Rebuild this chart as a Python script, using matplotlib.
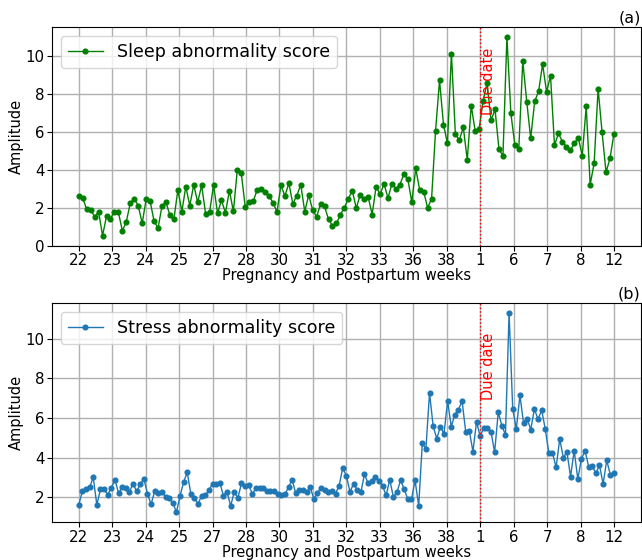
import numpy as np
import matplotlib
matplotlib.use("Agg")
import matplotlib.pyplot as plt

week_labels = ["22", "23", "24", "25", "27", "28", "30", "31", "32", "33",
               "36", "38", "1", "6", "7", "8", "12"]
due_label_index = 12  # tick "1"

sleep_scores = [
    2.61, 2.51, 1.93, 1.91, 1.53, 1.81, 0.54, 1.56, 1.44, 1.81,
    1.77, 0.79, 1.28, 2.26, 2.49, 2.12, 1.19, 2.46, 2.35, 1.30,
    0.93, 2.11, 2.30, 1.60, 1.39, 2.96, 1.81, 3.12, 2.12, 3.21,
    2.30, 3.19, 1.68, 1.77, 3.21, 1.72, 2.40, 1.74, 2.91, 1.82,
    4.02, 3.82, 2.04, 2.33, 2.35, 2.95, 3.00, 2.82, 2.61,
    2.28, 1.79, 3.19, 2.63, 3.30, 2.21, 2.65, 3.23, 1.81, 2.67,
    1.89, 1.53, 2.21, 2.09, 1.39, 1.07, 1.18, 1.65, 2.02, 2.49,
    2.91, 1.98, 2.70, 2.47, 2.58, 1.65, 3.12, 2.72, 3.26, 2.53,
    3.25, 3.02, 3.23, 3.77, 3.53, 2.30, 4.09, 2.93, 2.86, 2.00,
    2.49, 6.07, 8.72, 6.39, 5.40, 10.14, 5.89, 5.58, 6.25, 4.53,
    7.39, 6.04,
    6.18, 7.65, 8.58, 6.61, 7.19, 5.09, 4.74, 11.02, 6.98, 5.33,
    5.12, 9.75, 7.60, 5.67, 7.61, 8.16, 9.58, 8.12, 8.96, 5.30,
    5.93, 5.49, 5.23, 5.05, 5.40, 5.70, 4.75, 7.35, 3.23, 4.35,
    8.28, 6.00, 3.88, 4.61, 5.91,
]

stress_scores = [
    1.63, 2.32, 2.44, 2.51, 3.01, 1.63, 2.41, 2.43, 2.14, 2.48,
    2.90, 2.22, 2.51, 2.48, 2.27, 2.70, 2.31, 2.66, 2.94, 2.19,
    1.66, 2.32, 2.22, 2.26, 2.03, 1.95, 1.74, 1.27, 2.06, 2.78,
    3.26, 2.17, 1.97, 1.69, 2.09, 2.10, 2.37, 2.68, 2.70, 2.75,
    2.09, 2.29, 1.57, 2.29, 1.97, 2.72, 2.60, 2.61, 2.19, 2.46,
    2.46, 2.49, 2.32, 2.34, 2.32, 2.15, 2.12, 2.15, 2.51, 2.90,
    2.20, 2.39, 2.36, 2.26, 2.53, 1.93, 2.22, 2.49, 2.37, 2.26,
    2.32, 2.19, 2.60, 3.48, 3.09, 2.29, 2.68, 2.39, 2.26, 3.16,
    2.73, 2.85, 3.04, 2.83, 2.60, 2.10, 2.90, 2.02, 2.26, 2.87,
    2.41, 1.91, 1.90, 2.87, 1.57, 4.72, 4.45, 7.26, 5.59, 4.96,
    5.57, 5.21, 6.86, 5.57, 6.17, 6.42, 6.86, 5.32, 5.37, 4.31,
    5.81, 5.08, 5.52, 5.52, 5.30, 4.28, 6.29, 5.62, 5.15, 11.29,
    6.46, 5.45, 7.14, 5.74, 5.96, 5.42, 6.46, 5.93, 6.40, 5.45,
    4.23, 4.26, 3.51, 4.94, 4.01, 4.28, 3.05, 4.36, 2.92, 3.94,
    4.36, 3.55, 3.58, 3.22, 3.62, 2.68, 3.87, 3.14, 3.24,
]

plt.rcParams['font.family'] = ['DejaVu Sans']

fig = plt.figure(figsize=(6.42, 5.6), dpi=100)
ax1 = fig.add_axes([0.081, 0.561, 0.917, 0.391])
ax2 = fig.add_axes([0.081, 0.068, 0.917, 0.391])

panels = [
    (ax1, sleep_scores, 'green', 'Sleep abnormality score', '(a)'),
    (ax2, stress_scores, '#1f77b4', 'Stress abnormality score', '(b)'),
]

for ax, vals, col, lab, tag in panels:
    x = np.arange(len(vals))
    ax.plot(x, vals, color=col, marker='o', markersize=3.4, linewidth=1.0,
            label=lab)
    ticks = np.linspace(0, len(vals) - 1, len(week_labels))
    ax.set_xticks(ticks)
    ax.set_xticklabels(week_labels, fontsize=10.8)
    ax.tick_params(axis='both', labelsize=10.8, pad=2)
    due_x = ticks[due_label_index]
    ax.axvline(due_x, color='red', linestyle=':', linewidth=1.0)
    ax.text(due_x + 0.3, 6.9, 'Due date', rotation=90, color='red',
            fontsize=10.5, ha='left', va='bottom')
    ax.grid(True, color='#b0b0b0', linewidth=1.0)
    ax.set_axisbelow(True)
    ax.set_xlabel('Pregnancy and Postpartum weeks', fontsize=10.5, labelpad=0)
    ax.set_ylabel('Amplitude', fontsize=10.5, labelpad=1)
    ax.legend(loc='upper left', fontsize=12.6)
    ax.set_title(tag, loc='right', fontsize=11.5, pad=3)

ax1.set_ylim(bottom=0)
ax1.set_yticks([0, 2, 4, 6, 8, 10])
ax2.set_yticks([2, 4, 6, 8, 10])

fig.savefig('out.png', dpi=100)
